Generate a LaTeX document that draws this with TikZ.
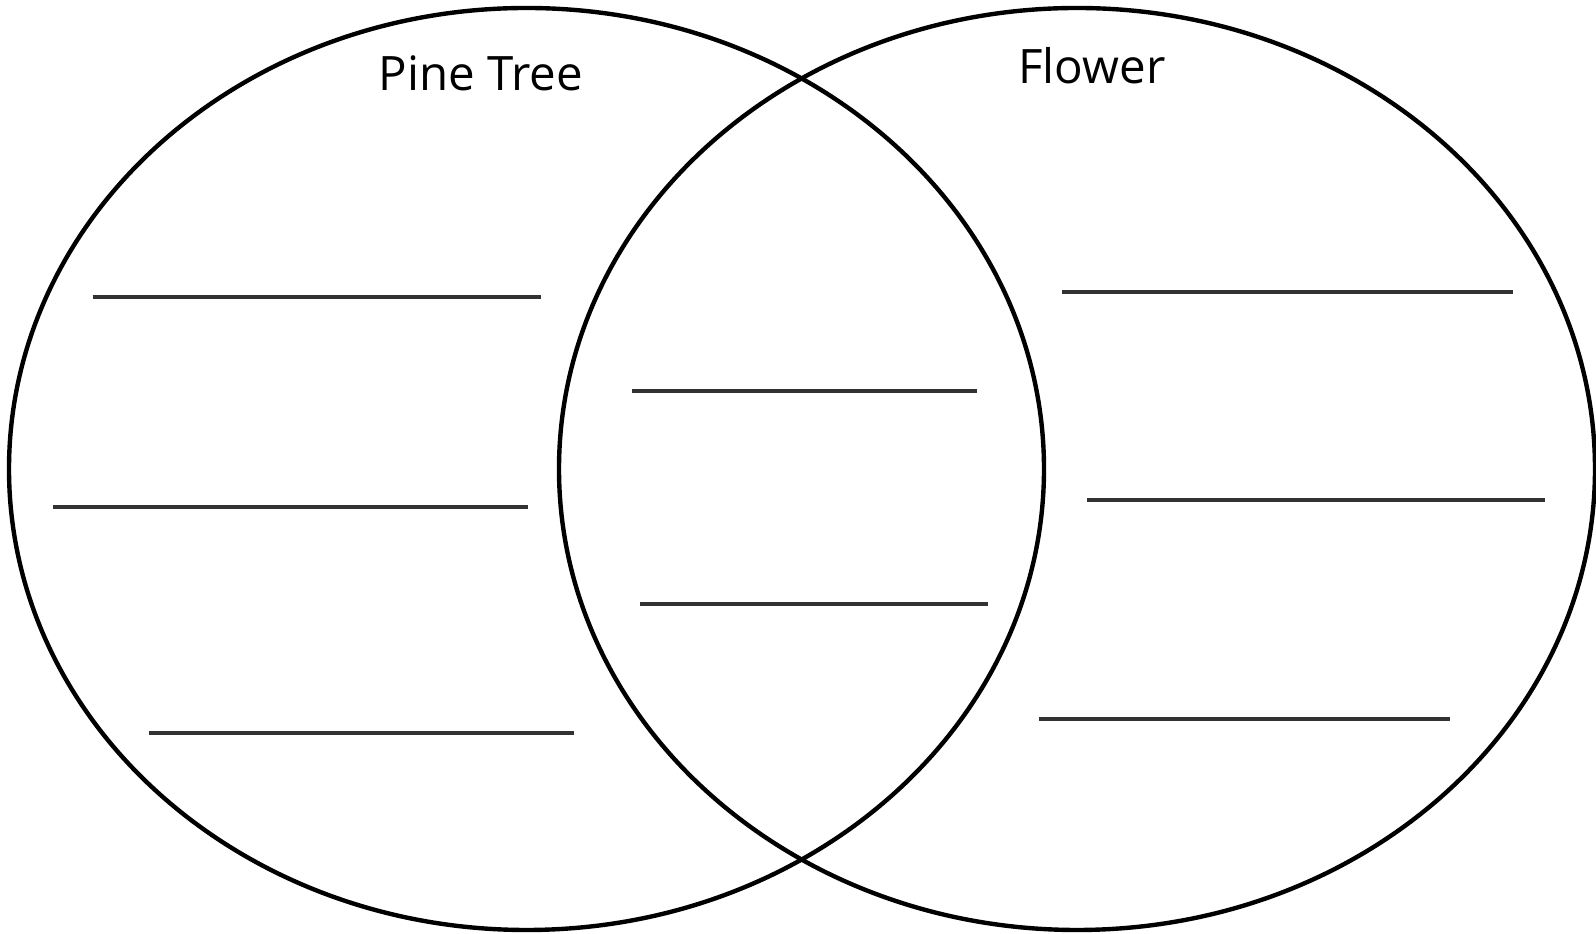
\documentclass[tikz,border=0pt]{standalone}
\usepackage{fontspec}
\setmainfont{Open Sans}
\usepackage{xcolor}
\definecolor{lineGray}{RGB}{50,50,50}

\begin{document}
\begin{tikzpicture}
        % Canvas
        \useasboundingbox (0,0) rectangle (31.92,18.68);

        % Circles
        \draw[line width=2.5pt] (10.53,9.30) ellipse (10.35 and 9.22);
        \draw[line width=2.5pt] (21.54,9.30) ellipse (10.36 and 9.22);

        % Titles
        \node[font=\fontsize{27}{30}\selectfont] (pine) at (9.62,17.22) {Pine Tree};
        \node[font=\fontsize{27}{30}\selectfont] (flower) at (21.84,17.36) {Flower};

        % Writing lines, pine tree side
        \draw[lineGray, line width=2.3pt] (1.85,12.74) -- (10.81,12.74);
        \draw[lineGray, line width=2.3pt] (1.06,8.54) -- (10.56,8.54);
        \draw[lineGray, line width=2.3pt] (2.97,4.02) -- (11.48,4.02);

        % Writing lines, overlap
        \draw[lineGray, line width=2.3pt] (12.64,10.86) -- (19.54,10.86);
        \draw[lineGray, line width=2.3pt] (12.80,6.60) -- (19.76,6.60);

        % Writing lines, flower side
        \draw[lineGray, line width=2.3pt] (21.24,12.84) -- (30.26,12.84);
        \draw[lineGray, line width=2.3pt] (21.74,8.68) -- (30.90,8.68);
        \draw[lineGray, line width=2.3pt] (20.78,4.30) -- (29.00,4.30);
    \end{tikzpicture}
\end{document}
